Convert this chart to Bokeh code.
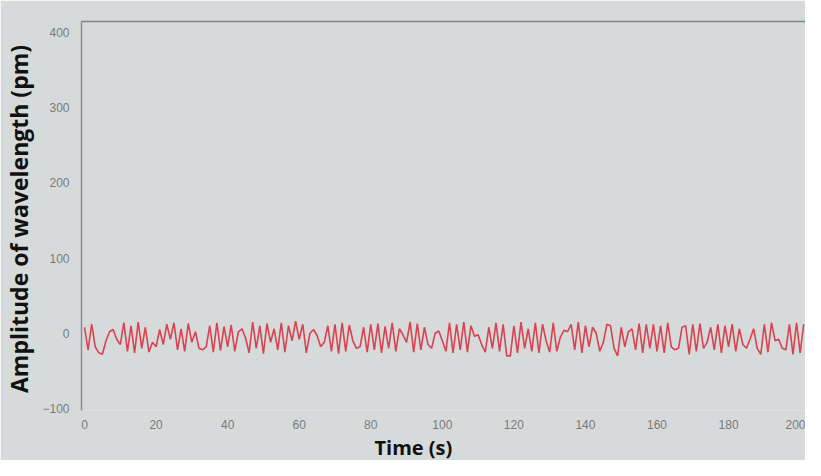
from bokeh.plotting import figure
from bokeh.models import LinearAxis, FixedTicker, Range1d, Title
from bokeh.embed import file_html
from bokeh.resources import INLINE

# Time (s), sampled once per second
time_s = list(range(0, 202))

# Amplitude of wavelength (pm)
amplitude_pm = [
    8, -22, 12, -18, -26, -28, -10, 2, 5, -8,
    -15, 14, -24, 10, -26, 15, -20, 8, -25, -12,
    -18, 5, -15, 12, -8, 14, -22, 6, -24, 13,
    -12, 2, -20, -22, -18, 10, -25, 14, -23, 9,
    -18, 11, -24, 2, 6, -6, -26, 15, -20, 10,
    -27, 13, -12, 6, -22, 14, -25, 10, -10, 16,
    -8, 12, -26, 0, 5, -3, -18, -12, 10, -24,
    12, -27, 14, -24, 11, -10, -20, -18, 8, -25,
    12, -22, 13, -26, 9, -20, 14, -24, 6, -2,
    -12, 15, -25, 13, -22, 8, -15, -20, 0, 3,
    -10, -24, 14, -26, 12, -22, 15, -25, 10, -4,
    -2, -15, -25, 8, -20, 14, -24, 12, -30, -30,
    10, -26, 15, -20, 6, -24, 14, -26, 12, -10,
    -25, 14, -24, -5, 4, 2, 12, -22, 15, -26,
    10, -18, 8, 0, -24, -12, 12, 10, -20, -30,
    8, -18, 2, 6, -22, 13, -26, 12, -20, 12,
    -24, 10, -26, 14, -18, -22, -20, 8, 10, -28,
    12, -24, 13, -20, -12, 8, -22, 12, -26, 10,
    -18, 12, -24, 6, -15, -20, -8, 6, -20, -28,
    12, -25, 14, -10, -8, -20, -22, 12, -28, 14,
    -26, 12,
]

x_ticks = [0, 20, 40, 60, 80, 100, 120, 140, 160, 180, 200]
y_ticks = [-100, 0, 100, 200, 300, 400]

x_title = "Time (s)"
y_title = "Amplitude of wavelength  (pm)"

BG = "#d6dadb"

p = figure(
    width=805, height=460,
    output_backend="svg", toolbar_location=None,
    x_range=Range1d(-0.84, 201.5), y_range=Range1d(-102.7, 414.6),
    min_border_left=72, min_border_right=0, min_border_top=21, min_border_bottom=0,
    background_fill_color=BG, border_fill_color=BG,
)
p.outline_line_color = None
p.grid.visible = False

p.line(time_s, amplitude_pm, line_color="#d9424f", line_width=1.6)

tick_font = "Liberation Sans"

xa = p.xaxis[0]
xa.ticker = FixedTicker(ticks=x_ticks)
xa.axis_line_color = None
xa.major_tick_line_color = None
xa.minor_tick_line_color = None
xa.major_label_text_color = "#7a7a7a"
xa.major_label_text_font = tick_font
xa.major_label_text_font_size = "12px"
xa.major_label_standoff = 3

# x-axis title under the tick labels, placed left of centre as in the picture
p.add_layout(Title(
    text=x_title, align="left", offset=293, standoff=0,
    text_font="Open Sans", text_font_style="bold", text_font_size="20px",
    text_color="#111111",
), "below")

ya = p.yaxis[0]
ya.ticker = FixedTicker(ticks=y_ticks)
ya.axis_line_color = "#8a8d8e"
ya.axis_line_width = 1.5
ya.major_tick_line_color = None
ya.minor_tick_line_color = None
ya.major_label_text_color = "#7a7a7a"
ya.major_label_text_font = tick_font
ya.major_label_text_font_size = "12px"
ya.major_label_standoff = 6
ya.axis_label = y_title
ya.axis_label_text_font = "Open Sans"
ya.axis_label_text_font_style = "bold"
ya.axis_label_text_font_size = "23px"
ya.axis_label_text_color = "#111111"
ya.axis_label_standoff = 4

top = LinearAxis(ticker=FixedTicker(ticks=[]))
top.axis_line_color = "#7d8283"
top.axis_line_width = 1.5
top.major_tick_line_color = None
top.minor_tick_line_color = None
top.major_label_text_font_size = "0px"
p.add_layout(top, "above")

open("out.html", "w").write(file_html(p, INLINE))
